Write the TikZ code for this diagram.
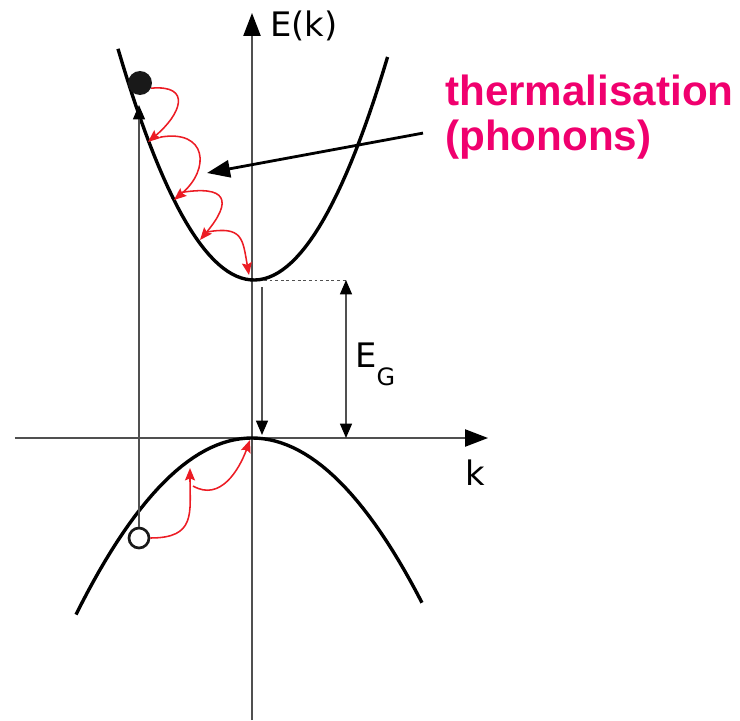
\documentclass[tikz,border=0pt]{standalone}
\usepackage{fontspec}
\setmainfont{Liberation Sans}
\newfontfamily\labelfont{DejaVu Sans}
\usepackage{tikz}
\usetikzlibrary{positioning, calc, arrows.meta}

\definecolor{phononpink}{RGB}{240,0,110}
\definecolor{hopred}{RGB}{236,28,36}
\definecolor{axisgray}{RGB}{80,80,80}

\begin{document}
\begin{tikzpicture}[
    axis/.style={draw=axisgray, line width=1.2pt, -{Triangle[length=0.575cm, width=0.43cm, color=black]}},
    band/.style={black, line width=2.4pt},
    hop/.style={draw=hopred, line width=1.1pt, -{Stealth[length=0.31cm, width=0.25cm, inset=0.05cm, color=hopred]}},
    transition/.style={draw=axisgray, line width=1pt, -{Triangle[length=0.36cm, width=0.3cm, color=black]}},
    gaparrow/.style={draw=axisgray, line width=1pt, {Triangle[length=0.36cm, width=0.3cm, color=black]}-{Triangle[length=0.36cm, width=0.3cm, color=black]}},
    pointer/.style={black, line width=2pt, -{Triangle[length=0.575cm, width=0.43cm]}},
    electron/.style={circle, fill=black!90, minimum size=0.6cm, inner sep=0pt},
    hole/.style={circle, draw=black!90, fill=white, line width=1.9pt, minimum size=0.5cm, inner sep=0pt},
    lbl/.style={font=\labelfont\fontsize{24}{28}\selectfont, inner sep=0pt},
    thermtxt/.style={font=\bfseries\fontsize{30}{36}\selectfont, text=phononpink, inner sep=0pt}
]
    \useasboundingbox (-6.3,-7.05) rectangle (12.2,10.95);

    % Axes
    \coordinate (vbm) at (0,0);
    \coordinate (cbm) at (0.05,3.95);
    \coordinate (kmin) at (-5.925,0);
    \coordinate (kmax) at (5.9,0);
    \coordinate (Emin) at (0,-7.05);
    \coordinate (Emax) at (0,10.625);
    \draw[axis] (kmin) -- (kmax);
    \draw[axis] (Emin) -- (Emax);
    \node[lbl, anchor=base west] (Elabel) at (0.45,10.025) {E(k)};
    \node[lbl, anchor=base west] (klabel) at (5.325,-1.175) {k};

    % Conduction and valence bands
    \draw[band] plot[domain=-3.35:3.39, samples=60] (\x, {3.95+0.5*(\x-0.05)*(\x-0.05)});
    \draw[band] plot[domain=-4.4:4.25, samples=60] (\x, {-0.228*(\x)*(\x)});

    % Hole and electron
    \node[hole] (hole) at (-2.825,-2.5) {};
    \node[electron] (elec) at (-2.8,8.875) {};

    % Absorption
    \coordinate (pumptop) at (-2.825,8.325);
    \draw[transition] (hole) -- (pumptop);

    % Band gap
    \coordinate (gaptop) at (2.35,3.95);
    \coordinate (gapbot) at (2.35,0);
    \draw[axisgray, line width=0.7pt, dash pattern=on 2pt off 2pt] ([xshift=0.25cm]cbm) -- (gaptop);
    \draw[gaparrow] (gaptop) -- (gapbot);
    \node[lbl, anchor=base west] (EG) at (2.575,1.775) {E\raisebox{-0.45cm}{\fontsize{17}{20}\selectfont G}};

    % Recombination
    \draw[transition] ([shift={(0.2,-0.175)}]cbm) -- ([shift={(0.25,0.075)}]vbm);

    % Thermalisation steps, conduction band
    \coordinate (c1) at (-2.6,7.4);
    \coordinate (c2) at (-1.95,5.95);
    \coordinate (c3) at (-1.3,4.95);
    \draw[hop] (elec.-25) to[out=5, in=40, looseness=2] (c1);
    \draw[hop] ([shift={(0.3,0.12)}]c1) to[out=10, in=40, looseness=1.9] (c2);
    \draw[hop] ([shift={(0.1,0.175)}]c2) to[out=10, in=50, looseness=2.5] (c3);
    \draw[hop] ([shift={(0.175,0.2)}]c3) to[out=10, in=100, looseness=1.55] ([shift={(-0.125,0.125)}]cbm);

    % Thermalisation steps, valence band
    \coordinate (v1) at (-1.55,-0.75);
    \draw[hop] (hole.east) to[out=0, in=-90, looseness=1.45] (v1);
    \draw[hop] ([shift={(0.075,-0.45)}]v1) to[out=-30, in=-110, looseness=1.1] ([shift={(-0.05,-0.05)}]vbm);

    % Label
    \node[thermtxt, anchor=base west] (therm1) at (4.825,8.325) {thermalisation};
    \node[thermtxt, anchor=base west] (therm2) at (4.825,7.2) {(phonons)};
    \coordinate (hit) at (-1.125,6.625);
    \draw[pointer] ([xshift=-0.55cm, yshift=0.15cm]therm2.west) -- (hit);
\end{tikzpicture}
\end{document}
